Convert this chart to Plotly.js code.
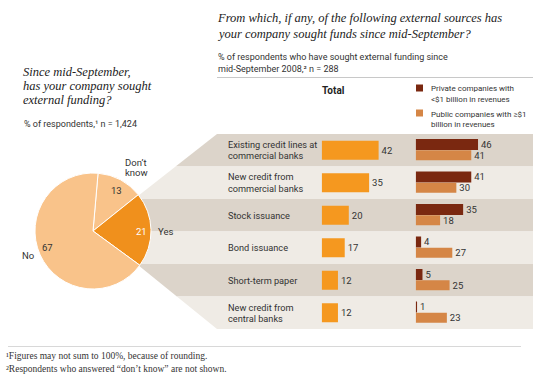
<!DOCTYPE html>
<html><head><meta charset="utf-8">
<script src="https://cdn.plot.ly/plotly-3.0.1.min.js"></script>
<style>html,body{margin:0;padding:0;background:#fff}#chart{width:545px;height:384px}</style>
</head><body><div id="chart"></div>
<script>
// ---- data ----
const pieLabels = ["Don\u2019t<br>know", "Yes", "No"];
const pieValues = [13, 21, 67];
const categories = ["Existing credit lines at<br>commercial banks", "New credit from<br>commercial banks", "Stock issuance", "Bond issuance", "Short-term paper", "New credit from<br>central banks"];
const totalValues = [42, 35, 20, 17, 12, 12];
const privateValues = [46, 41, 35, 4, 5, 1];
const publicValues = [41, 30, 18, 27, 25, 23];
const seriesNames = ["Private companies with<br>&lt;$1 billion in revenues", "Public companies with \u2265$1<br>billion in revenues"];
const totalHeader = "Total";
const leftTitle = ["Since mid-September,", "has your company sought", "external funding?"];
const leftSub = "% of respondents,\u00b9 n = 1,424";
const rightTitle = ["From which, if any, of the following external sources has", "your company sought funds since mid-September?"];
const rightSub = ["% of respondents who have sought external funding since", "mid-September 2008,\u00b2 n = 288"];
const footnotes = ["\u00b9Figures may not sum to 100%, because of rounding.", "\u00b2Respondents who answered \u201cdon\u2019t know\u201d are not shown."];

// ---- helpers ----
const W = 545, H = 384;
const px = x => x / W, py = y => 1 - y / H;
const C = {total: '#f5981f', priv: '#7a2810', pub: '#d58646', dark: '#dcd4ca', light: '#efebe5',
           pieLight: '#f9c38a', pieDark: '#f0901c', text: '#333'};
const SANS = '"Liberation Sans Narrow", "Arial Narrow", Roboto, sans-serif';
const SERIF = '"Liberation Serif", "DejaVu Serif", serif';

const traces = [
  {type: 'pie', labels: pieLabels, values: pieValues, sort: false, direction: 'clockwise', rotation: 5,
   marker: {colors: [C.pieLight, C.pieDark, C.pieLight], line: {color: '#fff', width: 1}},
   textinfo: 'none', hoverinfo: 'none', showlegend: false,
   domain: {x: [px(35), px(151)], y: [py(289), py(173)]}},
  {type: 'bar', orientation: 'h', y: categories, x: totalValues, xaxis: 'x', yaxis: 'y',
   width: 0.58, offset: -0.29, marker: {color: C.total}, text: totalValues.map(String),
   textposition: 'outside', constraintext: 'none', cliponaxis: false,
   textfont: {family: SANS, size: 9.5, color: C.text}, showlegend: false, hoverinfo: 'none'},
  {type: 'bar', orientation: 'h', y: categories, x: privateValues, xaxis: 'x2', yaxis: 'y',
   width: 0.34, offset: -0.35, marker: {color: C.priv}, text: privateValues.map(String),
   textposition: 'outside', constraintext: 'none', cliponaxis: false,
   textfont: {family: SANS, size: 9.5, color: C.text}, showlegend: false, hoverinfo: 'none'},
  {type: 'bar', orientation: 'h', y: categories, x: publicValues, xaxis: 'x2', yaxis: 'y',
   width: 0.31, offset: 0, marker: {color: C.pub}, text: publicValues.map(String),
   textposition: 'outside', constraintext: 'none', cliponaxis: false,
   textfont: {family: SANS, size: 9.5, color: C.text}, showlegend: false, hoverinfo: 'none'}
];

// ---- band shapes (wedge from pie) ----
function xL(y) { if (y < 196) return 138 + (196 - y) * 79 / 62; if (y > 265) return 138 + (y - 265) * 79 / 64; return 138; }
const shapes = [];
const rowTop = 134, rowH = 32.5, xR = 533;
for (let i = 0; i < categories.length; i++) {
  const y0 = rowTop + i * rowH, y1 = y0 + rowH;
  const pts = [[xL(y0), y0], [xR, y0], [xR, y1], [xL(y1), y1]];
  if (y0 < 265 && y1 > 265) pts.push([138, 265]);
  if (y0 < 196 && y1 > 196) pts.push([138, 196]);
  const path = 'M' + pts.map(p => px(p[0]).toFixed(5) + ',' + py(p[1]).toFixed(5)).join('L') + 'Z';
  shapes.push({type: 'path', xref: 'paper', yref: 'paper', path: path, fillcolor: i % 2 === 0 ? C.dark : C.light,
               line: {width: 0}, layer: 'below'});
}
shapes.push({type: 'line', xref: 'paper', yref: 'paper', x0: px(217), x1: px(533), y0: py(77.5), y1: py(77.5), line: {color: '#c8c8c8', width: 1}});
shapes.push({type: 'line', xref: 'paper', yref: 'paper', x0: px(8), x1: px(521), y0: py(346.5), y1: py(346.5), line: {color: '#d8d8d8', width: 1}});
// legend squares
[[C.priv, 84.5], [C.pub, 109.5]].forEach(([col, y]) => shapes.push({type: 'rect', xref: 'paper', yref: 'paper',
  x0: px(416), x1: px(423), y0: py(y), y1: py(y + 7), fillcolor: col, line: {width: 0}}));

// ---- annotations ----
const ann = [];
function txt(t, x, y, o) {
  ann.push(Object.assign({text: t, xref: 'paper', yref: 'paper', x: px(x), y: py(y), showarrow: false,
    xanchor: 'left', yanchor: 'middle', align: 'left', font: {family: SANS, size: 9.5, color: C.text}}, o || {}));
}
// titles
rightTitle.forEach((t, j) => txt('<i>' + t + '</i>', 215, 18 + j * 15.5, {font: {family: SERIF, size: 12.5, color: '#222'}}));
rightSub.forEach((t, j) => txt(t, 216, 57 + j * 12, {font: {family: SANS, size: 9, color: C.text}}));
leftTitle.forEach((t, j) => txt('<i>' + t + '</i>', 21, 72 + j * 14, {font: {family: SERIF, size: 12.5, color: '#222'}}));
txt(leftSub, 22, 124, {font: {family: SANS, size: 9, color: C.text}});
footnotes.forEach((t, j) => txt(t, 4, 356 + j * 12.5, {font: {family: SERIF, size: 9.5, color: C.text}}));
// header + legend
txt('<b>' + totalHeader + '</b>', 333, 90, {xanchor: 'center', font: {family: SANS, size: 10, color: '#222'}});
seriesNames.forEach((t, j) => {
  t.split('<br>').forEach((line, k) => txt(line, 429, 88.5 + j * 25.5 + k * 11, {font: {family: SANS, size: 8, color: C.text}}));
});
// category labels
categories.forEach((c, i) => {
  const lines = c.split('<br>');
  lines.forEach((line, j) => ann.push({text: line, xref: 'paper', yref: 'y', x: px(226), y: i, showarrow: false,
    xanchor: 'left', yanchor: 'middle', align: 'left', yshift: ((lines.length - 1) / 2 - j) * 11.5,
    font: {family: SANS, size: 9.2, color: C.text}}));
});
// pie labels
txt(String(pieValues[0]), 116, 190, {xanchor: 'center'});
txt(String(pieValues[1]), 141, 231, {xanchor: 'center', font: {family: SANS, size: 9.5, color: '#fff'}});
txt(String(pieValues[2]), 47, 247, {xanchor: 'center'});
pieLabels[0].split('<br>').forEach((l, k) => txt(l, 123, 162 + k * 11, {}));
txt(pieLabels[1], 156, 231, {});
txt(pieLabels[2], 20, 255, {});

const layout = {
  width: W, height: H, margin: {l: 0, r: 0, t: 0, b: 0}, paper_bgcolor: '#fff', plot_bgcolor: 'rgba(0,0,0,0)',
  showlegend: false, barmode: 'overlay',
  xaxis: {domain: [px(321.7), px(389.45)], range: [0, 50], visible: false, fixedrange: true, anchor: 'y'},
  xaxis2: {domain: [px(415.7), px(483.45)], range: [0, 50], visible: false, fixedrange: true, anchor: 'y'},
  yaxis: {domain: [py(329), py(134)], type: 'category', range: [5.5, -0.5], visible: false, fixedrange: true},
  shapes: shapes, annotations: ann
};
Plotly.newPlot('chart', traces, layout, {staticPlot: true, displayModeBar: false});
</script></body></html>
